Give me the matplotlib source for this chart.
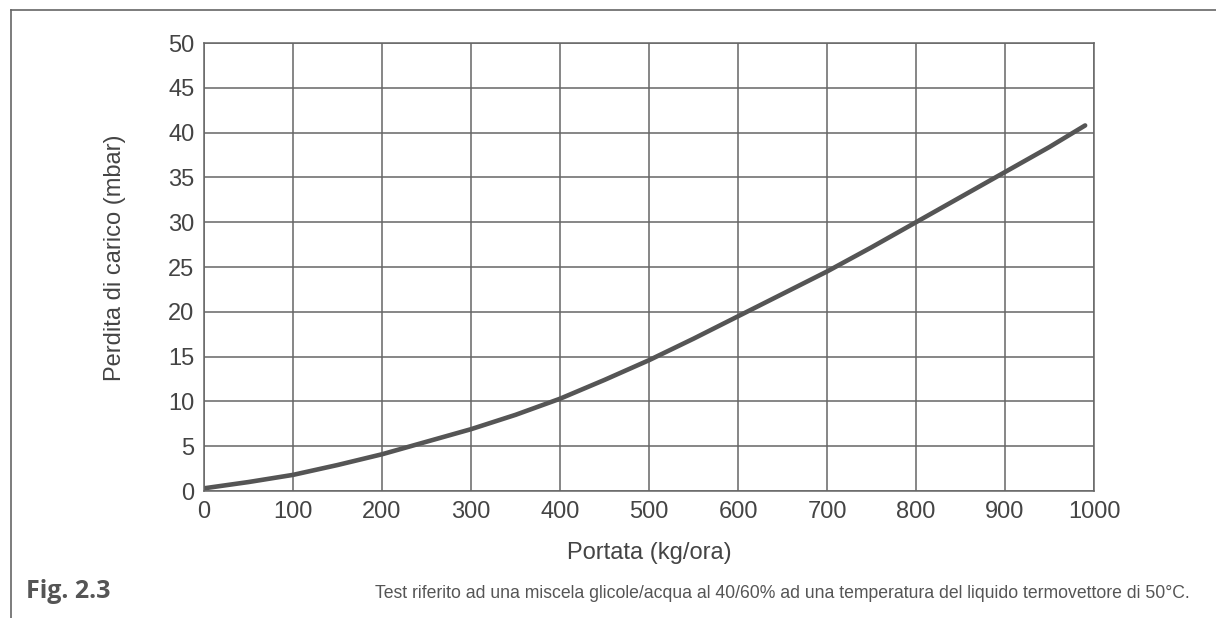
import matplotlib
matplotlib.use("Agg")
import matplotlib.pyplot as plt
from matplotlib.lines import Line2D

# dati
portata = [0, 50, 100, 150, 200, 250, 300, 350, 400, 450, 500, 550, 600,
           650, 700, 750, 800, 850, 900, 950, 990]
perdita = [0.3, 1.0, 1.8, 2.9, 4.1, 5.5, 6.9, 8.5, 10.3, 12.4, 14.6, 17.0, 19.5,
           22.0, 24.5, 27.2, 30.0, 32.8, 35.6, 38.4, 40.8]
xticks = list(range(0, 1001, 100))
yticks = list(range(0, 51, 5))

grigio = "#555555"
linea = "#666666"

plt.rcParams['font.family'] = ['Liberation Sans', 'DejaVu Sans']

fig = plt.figure(figsize=(12.16, 6.18), dpi=100)
ax = fig.add_axes([0.1678, 0.2055, 0.7319, 0.7249])

ax.plot(portata, perdita, color=grigio, lw=3.3, solid_capstyle="round",
        solid_joinstyle="round")
ax.set_xlim(0, 1000)
ax.set_ylim(0, 50)
ax.set_xticks(xticks)
ax.set_yticks(yticks)
ax.grid(True, color=linea, lw=1.1)
ax.tick_params(length=0, pad=7, labelsize=17, labelcolor="#444444")
for s in ax.spines.values():
    s.set_color(linea)
    s.set_linewidth(1.1)

ax.set_xlabel("Portata (kg/ora)", fontsize=17, color="#444444", labelpad=14)
ax.set_ylabel("Perdita di carico (mbar)", fontsize=17, color="#444444",
              labelpad=30, y=0.52)

# cornice
fig.add_artist(Line2D([11/1216, 1], [1 - 9.5/618] * 2, color=linea, lw=1.2))
fig.add_artist(Line2D([11/1216] * 2, [0, 1 - 9.5/618], color=linea, lw=1.2))

fig.text(26/1216, 1 - 598/618, "Fig. 2.3", fontsize=18, fontweight="bold",
         color=grigio, family=["Open Sans", "DejaVu Sans"])
fig.text(1190/1216, 1 - 598/618,
         "Test riferito ad una miscela glicole/acqua al 40/60% ad una temperatura del liquido termovettore di 50°C.",
         fontsize=12.7, color=grigio, ha="right",
         family=["Liberation Sans Narrow", "Liberation Sans", "DejaVu Sans"])

fig.savefig("out.png", dpi=100)
